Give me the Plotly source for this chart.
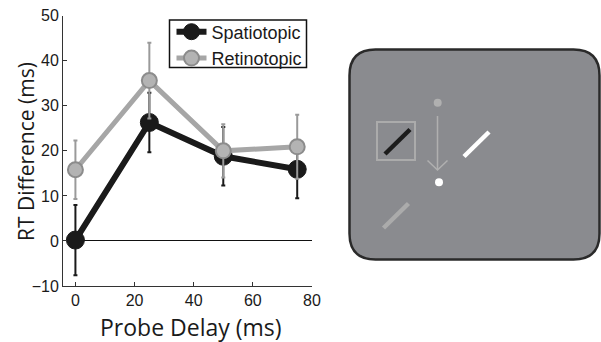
import plotly.graph_objects as go

W, H = 601, 342

# ---- data ----
delays = [0, 25, 50, 75]
spatiotopic = [0.2, 26.3, 18.8, 15.9]
spatiotopic_err = [7.8, 6.6, 6.5, 6.4]
retinotopic = [15.8, 35.6, 20.0, 20.9]
retinotopic_err = [6.5, 8.4, 5.9, 7.1]
series_names = ["Spatiotopic", "Retinotopic"]
x_ticks = [0, 20, 40, 60, 80]
y_ticks = [-10, 0, 10, 20, 30, 40, 50]
x_title = "Probe Delay (ms)"
y_title = "RT Difference (ms)"

def px(x):
    return x / W

def py(y):
    return 1 - y / H

# plot area in pixels
L, R, T, B = 63, 312, 15.7, 286

fig = go.Figure()
fig.add_trace(go.Scatter(
    x=delays, y=spatiotopic, name=series_names[0], mode="lines+markers",
    line=dict(color="#1a1a1a", width=6),
    marker=dict(size=18, color="#1a1a1a", line=dict(color="#1a1a1a", width=1)),
    error_y=dict(type="data", array=spatiotopic_err, color="#1a1a1a", thickness=2, width=2),
))
fig.add_trace(go.Scatter(
    x=delays, y=retinotopic, name=series_names[1], mode="lines+markers",
    line=dict(color="#a6a6a6", width=5),
    marker=dict(size=15, color="#b3b3b3", line=dict(color="#8c8c8c", width=2)),
    error_y=dict(type="data", array=retinotopic_err, color="#9a9a9a", thickness=2, width=2),
))

tick_font = dict(family="Liberation Sans, Arial, sans-serif", size=16, color="#1a1a1a")

fig.update_layout(
    width=W, height=H,
    margin=dict(l=0, r=0, t=0, b=0, autoexpand=False),
    paper_bgcolor="white", plot_bgcolor="white",
    showlegend=True,
    legend=dict(
        x=px(171.5), y=py(13.5), xanchor="left", yanchor="top",
        borderwidth=0, bgcolor="rgba(0,0,0,0)",
        font=dict(family="Liberation Sans, Arial, sans-serif", size=18, color="#1a1a1a"),
        tracegroupgap=0, itemwidth=30,
    ),
    xaxis=dict(
        domain=[px(L), px(R)], range=[-4.2, 80], automargin=False,
        tickvals=x_ticks, ticks="inside", ticklen=4, tickcolor="#333",
        showline=True, linecolor="#333", linewidth=1, mirror=False,
        showgrid=False, zeroline=False, tickfont=tick_font,
    ),
    yaxis=dict(
        domain=[py(B), py(T)], range=[-10, 50], automargin=False,
        tickvals=y_ticks, ticks="inside", ticklen=4, tickcolor="#333",
        showline=True, linecolor="#333", linewidth=1,
        showgrid=False, zeroline=True, zerolinecolor="#111", zerolinewidth=1,
        tickfont=tick_font,
    ),
)

# legend frame
fig.add_shape(type="rect", xref="paper", yref="paper",
              x0=px(169.5), x1=px(306.5), y0=py(20), y1=py(67.5),
              line=dict(color="#111", width=1.5), fillcolor="white", layer="above")

# axis titles
fig.add_annotation(text=x_title, xref="paper", yref="paper", x=px(191), y=py(327),
                   xanchor="center", yanchor="middle", showarrow=False,
                   font=dict(family="Open Sans, sans-serif", size=23, color="#1a1a1a"))
fig.add_annotation(text=y_title, xref="paper", yref="paper", x=px(26), y=py(152),
                   xanchor="center", yanchor="middle", showarrow=False, textangle=-90,
                   font=dict(family="Open Sans, sans-serif", size=21, color="#1a1a1a"))

# ---- right panel schematic (pixel positions converted to paper coords) ----
bx0, by0, bx1, by1, r = 349.5, 49.5, 599.5, 259.5, 26
path = (
    f"M {px(bx0 + r)},{py(by0)} L {px(bx1 - r)},{py(by0)} "
    f"Q {px(bx1)},{py(by0)} {px(bx1)},{py(by0 + r)} "
    f"L {px(bx1)},{py(by1 - r)} Q {px(bx1)},{py(by1)} {px(bx1 - r)},{py(by1)} "
    f"L {px(bx0 + r)},{py(by1)} Q {px(bx0)},{py(by1)} {px(bx0)},{py(by1 - r)} "
    f"L {px(bx0)},{py(by0 + r)} Q {px(bx0)},{py(by0)} {px(bx0 + r)},{py(by0)} Z"
)
fig.add_shape(type="path", path=path, xref="paper", yref="paper",
              fillcolor="#8a8b8f", line=dict(color="#2a2a2a", width=2.5))

# square frame
fig.add_shape(type="rect", xref="paper", yref="paper",
              x0=px(377), x1=px(415), y0=py(122), y1=py(160),
              line=dict(color="#ababab", width=2), fillcolor="rgba(0,0,0,0)")
# bars
for (x0, y0, x1, y1, c) in [
    (385, 154, 410, 129.5, "#1c1c1c"),
    (464, 156.5, 489, 132, "#ffffff"),
    (383.5, 228, 408.5, 203.5, "#ababab"),
]:
    fig.add_shape(type="line", xref="paper", yref="paper",
                  x0=px(x0), y0=py(y0), x1=px(x1), y1=py(y1),
                  line=dict(color=c, width=4.5))
# arrow
fig.add_shape(type="line", xref="paper", yref="paper",
              x0=px(437.5), y0=py(116), x1=px(437.5), y1=py(170),
              line=dict(color="#b0b0b0", width=1.5))
fig.add_shape(type="path", xref="paper", yref="paper",
              path=f"M {px(427.5)},{py(160.5)} L {px(437.5)},{py(170)} L {px(447.5)},{py(160.5)}",
              line=dict(color="#b0b0b0", width=1.5))
# dots
for (cx, cy, c) in [(437.7, 102.7, "#b0b0b0"), (439, 182.3, "#ffffff")]:
    fig.add_shape(type="circle", xref="paper", yref="paper",
                  x0=px(cx - 4), x1=px(cx + 4), y0=py(cy - 4), y1=py(cy + 4),
                  fillcolor=c, line=dict(width=0))

fig.write_html("out.html")
